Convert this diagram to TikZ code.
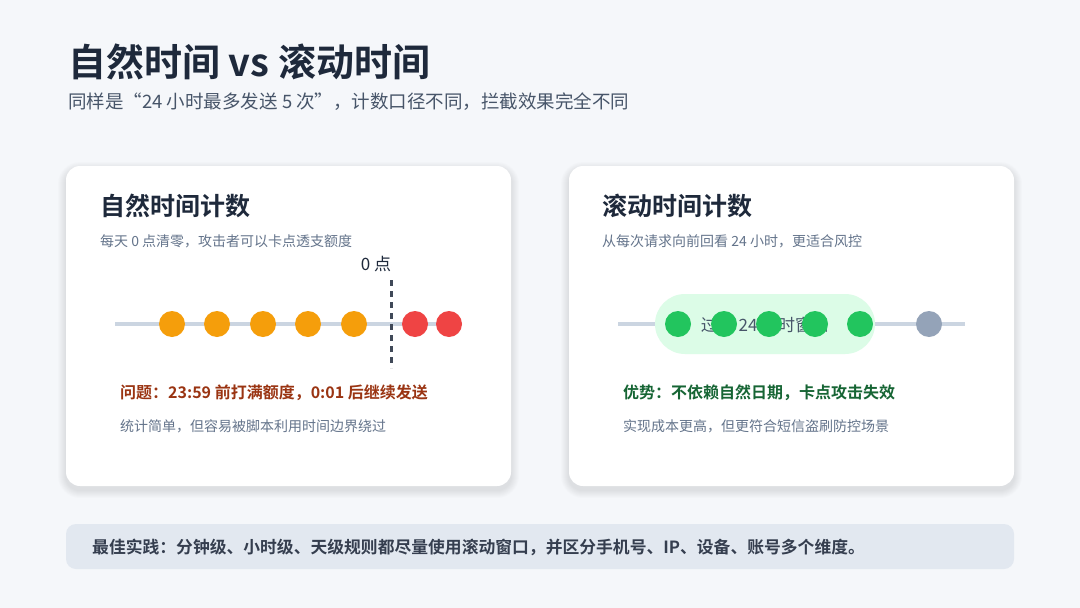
\documentclass[tikz,border=0pt]{standalone}
\usepackage{fontspec}
\setmainfont{Noto Sans CJK SC}
\newfontfamily\cjkb{Noto Sans CJK SC Bold}
\definecolor{bg}{HTML}{F5F7FA}
\definecolor{ink}{HTML}{1E293B}
\definecolor{sub}{HTML}{475569}
\definecolor{muted}{HTML}{64748B}
\definecolor{track}{HTML}{CBD5E1}
\definecolor{orng}{HTML}{F59E0B}
\definecolor{redd}{HTML}{EF4444}
\definecolor{grn}{HTML}{22C55E}
\definecolor{pill}{HTML}{DCFCE7}
\definecolor{gray2}{HTML}{94A3B8}
\definecolor{warn}{HTML}{9A3412}
\definecolor{good}{HTML}{166534}
\definecolor{bar}{HTML}{E2E8F0}
\tikzset{
 card/.style={fill=white,rounded corners=14pt},
 dot/.style={circle,minimum size=26pt,inner sep=0pt},
 txt/.style={anchor=west,inner sep=0pt},
 ctitle/.style={txt,font=\cjkb\fontsize{25}{30}\selectfont,text=ink},
 csub/.style={txt,font=\fontsize{14}{17}\selectfont,text=muted},
}
\begin{document}
\begin{tikzpicture}[x=1pt,y=-1pt]
\fill[bg] (0,0) rectangle (1080,608);
\useasboundingbox (0,0) rectangle (1080,608);
\node[txt,font=\cjkb\fontsize{38}{44}\selectfont,text=ink] (title) at (68,62) {自然时间 vs 滚动时间};
\node[txt,font=\fontsize{18.5}{22}\selectfont,text=sub] (subt) at (68,102) {同样是“24 小时最多发送 5 次”，计数口径不同，拦截效果完全不同};
% card shadows
\foreach \s in {1,...,8}{
  \fill[black,opacity=0.012,rounded corners={14pt+\s pt}] (66-\s,166-\s+4) rectangle (511+\s,486+\s+4);
  \fill[black,opacity=0.012,rounded corners={14pt+\s pt}] (569-\s,166-\s+4) rectangle (1014+\s,486+\s+4);
}
\path[card] (66,166) rectangle (511,486);
\path[card] (569,166) rectangle (1014,486);
% left
\node[ctitle] (lt) at (100,206) {自然时间计数};
\node[csub] (ls) at (100,241) {每天 0 点清零，攻击者可以卡点透支额度};
\coordinate (la) at (115,324); \coordinate (lb) at (462,324);
\draw[track,line width=4pt] (la) -- (lb);
\foreach \x [count=\i] in {172,217,263,308,354} \node[dot,fill=orng] (o\i) at (\x,324) {};
\node[dot,fill=redd] (r1) at (415,324) {};
\node[dot,fill=redd] (r2) at (449,324) {};
\node[font=\fontsize{17}{20}\selectfont,text=ink,inner sep=0pt] (zero) at (376,264) {0 点};
\coordinate (d1) at (391,280); \coordinate (d2) at (391,368);
\draw[ink!85,line width=3pt,dash pattern=on 6pt off 5pt] (d1) -- (d2);
\node[txt,font=\cjkb\fontsize{16}{19}\selectfont,text=warn] (lp) at (120,393) {问题：23:59 前打满额度，0:01 后继续发送};
\node[csub] (ln) at (120,426) {统计简单，但容易被脚本利用时间边界绕过};
% right
\node[ctitle] (rt) at (602,206) {滚动时间计数};
\node[csub] (rs) at (602,241) {从每次请求向前回看 24 小时，更适合风控};
\coordinate (ra) at (618,324); \coordinate (rb) at (965,324);
\draw[track,line width=4pt] (ra) -- (rb);
\fill[pill,rounded corners=30pt] (655,294) rectangle (875,354);
\node[font=\fontsize{17}{20}\selectfont,text=sub,inner sep=0pt] (win) at (765,325) {过去 24 小时窗口};
\foreach \x [count=\i] in {678,724,769,815,860} \node[dot,fill=grn] (g\i) at (\x,324) {};
\node[dot,fill=gray2] (gy) at (929,324) {};
\node[txt,font=\cjkb\fontsize{16}{19}\selectfont,text=good] (rp) at (623,393) {优势：不依赖自然日期，卡点攻击失效};
\node[csub] (rn) at (623,426) {实现成本更高，但更符合短信盗刷防控场景};
% bottom
\fill[bar,rounded corners=10pt] (66,524) rectangle (1014,569);
\node[txt,font=\cjkb\fontsize{16.8}{20}\selectfont,text=ink!90] (best) at (92,547) {最佳实践：分钟级、小时级、天级规则都尽量使用滚动窗口，并区分手机号、IP、设备、账号多个维度。};
\end{tikzpicture}
\end{document}
